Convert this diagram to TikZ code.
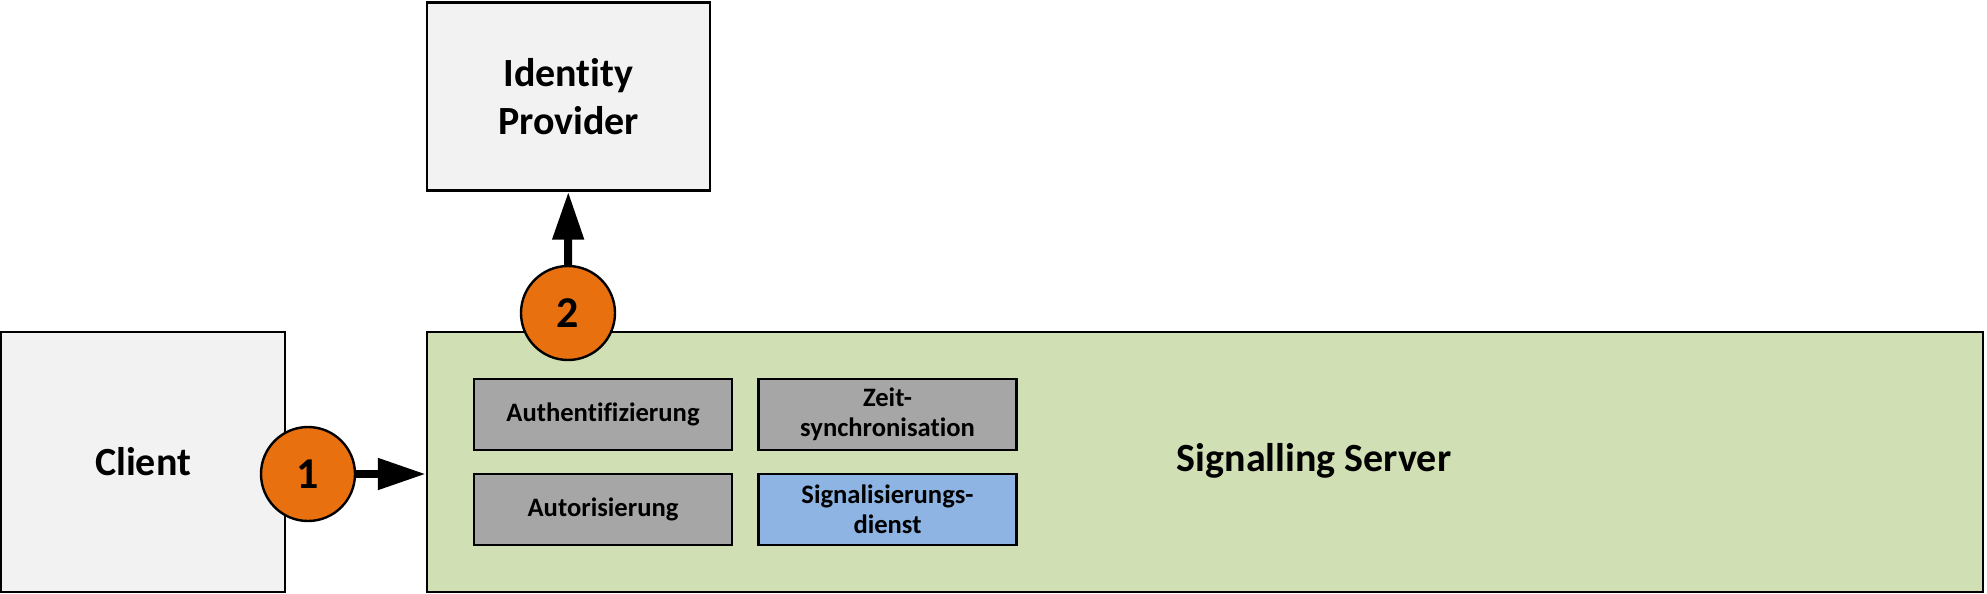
\documentclass[tikz,border=0pt]{standalone}
\usepackage{fontspec}
\setmainfont{Carlito}[Ligatures=NoCommon]
\usetikzlibrary{arrows.meta}
\definecolor{boxgray}{HTML}{F2F2F2}
\definecolor{servergreen}{HTML}{D1DFB4}
\definecolor{partgray}{HTML}{A6A6A6}
\definecolor{partblue}{HTML}{8DB4E3}
\definecolor{steporange}{HTML}{E8700F}
\begin{document}
\begin{tikzpicture}[x=0.5pt, y=-0.5pt,
    >={Triangle[length=24pt,width=15pt]},
    bigbox/.style={draw, line width=1.2pt, fill=boxgray, align=center, font=\fontsize{20}{24}\selectfont\bfseries},
    part/.style={draw, line width=1.2pt, fill=partgray, minimum width=129pt, minimum height=35.5pt, align=center, font=\fontsize{13.3}{15}\selectfont\bfseries},
    stepnum/.style={circle, draw, line width=1.2pt, fill=steporange, minimum size=47pt, inner sep=0pt, font=\fontsize{22}{26}\selectfont\bfseries},
    flow/.style={->, line width=4pt}]
        \useasboundingbox (0,0) rectangle (1987,594);
        \node [bigbox, minimum width=142pt, minimum height=130pt] (client) at (143,462) {Client};
        \node [bigbox, minimum width=141.5pt, minimum height=94pt] (idp) at (568.5,96.5) {Identity\\Provider};
        \node [bigbox, fill=servergreen, minimum width=778pt, minimum height=130pt] (server) at (1205,462) {};
        \node [font=\fontsize{20}{24}\selectfont\bfseries] (serverlabel) at (1314,461) {Signalling Server};
        \node [part] (authn) at (603,414.5) {Authentifizierung};
        \node [part] (zeit) at (887.5,414.5) {Zeit-\\synchronisation};
        \node [part] (authz) at (603,509.5) {Autorisierung};
        \node [part, fill=partblue] (signal) at (887.5,509.5) {Signalisierungs-\\dienst};
        \node [stepnum] (one) at (308,474) {1};
        \node [stepnum] (two) at (568,313) {2};
        \draw [flow] (one) -- (one -| server.west);
        \draw [flow] (two) -- (idp);
\end{tikzpicture}
\end{document}
